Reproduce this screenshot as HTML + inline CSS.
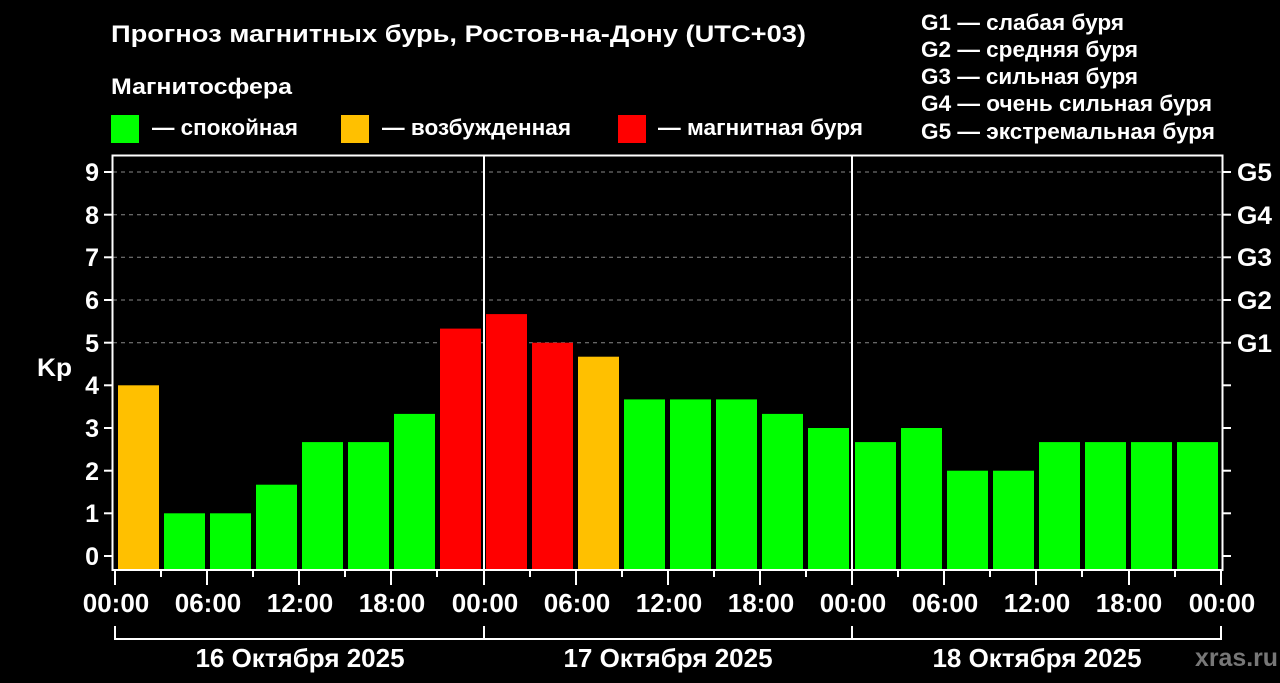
<!DOCTYPE html>
<html><head><meta charset="utf-8"><style>
html,body{margin:0;padding:0;background:#000;width:1280px;height:683px;overflow:hidden}
svg text{font-family:"Liberation Sans","DejaVu Sans",sans-serif;font-weight:bold;fill:#fff}
</style></head><body>
<svg width="1280" height="683" viewBox="0 0 1280 683" xmlns="http://www.w3.org/2000/svg">
<rect width="1280" height="683" fill="#000"/>
<text x="111" y="42" font-size="24" textLength="695" lengthAdjust="spacingAndGlyphs">Прогноз магнитных бурь, Ростов-на-Дону (UTC+03)</text>
<text x="111" y="94" font-size="22" textLength="181" lengthAdjust="spacingAndGlyphs">Магнитосфера</text>
<rect x="111" y="115" width="28" height="28" fill="#00ff00"/>
<text x="152" y="135" font-size="22" textLength="146" lengthAdjust="spacingAndGlyphs">— спокойная</text>
<rect x="341" y="115" width="28" height="28" fill="#ffc000"/>
<text x="382" y="135" font-size="22" textLength="189" lengthAdjust="spacingAndGlyphs">— возбужденная</text>
<rect x="618" y="115" width="28" height="28" fill="#ff0000"/>
<text x="658" y="135" font-size="22" textLength="205" lengthAdjust="spacingAndGlyphs">— магнитная буря</text>
<g font-size="22">
<text x="921" y="30" textLength="203" lengthAdjust="spacingAndGlyphs">G1 — слабая буря</text>
<text x="921" y="57" textLength="217" lengthAdjust="spacingAndGlyphs">G2 — средняя буря</text>
<text x="921" y="84" textLength="217" lengthAdjust="spacingAndGlyphs">G3 — сильная буря</text>
<text x="921" y="111" textLength="291" lengthAdjust="spacingAndGlyphs">G4 — очень сильная буря</text>
<text x="921" y="139" textLength="294" lengthAdjust="spacingAndGlyphs">G5 — экстремальная буря</text>
</g>
<g stroke="#888" stroke-width="1" stroke-dasharray="4,4">
<line x1="113" x2="1222" y1="172" y2="172"/>
<line x1="113" x2="1222" y1="214.7" y2="214.7"/>
<line x1="113" x2="1222" y1="257.3" y2="257.3"/>
<line x1="113" x2="1222" y1="300" y2="300"/>
<line x1="113" x2="1222" y1="342.7" y2="342.7"/>
</g>
<g>
<rect x="118" y="385.3" width="41" height="184.7" fill="#ffc000"/>
<rect x="164" y="513.3" width="41" height="56.7" fill="#00ff00"/>
<rect x="210" y="513.3" width="41" height="56.7" fill="#00ff00"/>
<rect x="256" y="484.7" width="41" height="85.3" fill="#00ff00"/>
<rect x="302" y="442.1" width="41" height="127.9" fill="#00ff00"/>
<rect x="348" y="442.1" width="41" height="127.9" fill="#00ff00"/>
<rect x="394" y="413.9" width="41" height="156.1" fill="#00ff00"/>
<rect x="440" y="328.6" width="41" height="241.4" fill="#ff0000"/>
<rect x="486" y="314.1" width="41" height="255.9" fill="#ff0000"/>
<rect x="532" y="342.7" width="41" height="227.3" fill="#ff0000"/>
<rect x="578" y="356.7" width="41" height="213.3" fill="#ffc000"/>
<rect x="624" y="399.4" width="41" height="170.6" fill="#00ff00"/>
<rect x="670" y="399.4" width="41" height="170.6" fill="#00ff00"/>
<rect x="716" y="399.4" width="41" height="170.6" fill="#00ff00"/>
<rect x="762" y="413.9" width="41" height="156.1" fill="#00ff00"/>
<rect x="808" y="428" width="41" height="142" fill="#00ff00"/>
<rect x="855" y="442.1" width="41" height="127.9" fill="#00ff00"/>
<rect x="901" y="428" width="41" height="142" fill="#00ff00"/>
<rect x="947" y="470.7" width="41" height="99.3" fill="#00ff00"/>
<rect x="993" y="470.7" width="41" height="99.3" fill="#00ff00"/>
<rect x="1039" y="442.1" width="41" height="127.9" fill="#00ff00"/>
<rect x="1085" y="442.1" width="41" height="127.9" fill="#00ff00"/>
<rect x="1131" y="442.1" width="41" height="127.9" fill="#00ff00"/>
<rect x="1177" y="442.1" width="41" height="127.9" fill="#00ff00"/>
</g>
<rect x="112.5" y="155.5" width="1110" height="414.5" fill="none" stroke="#fff" stroke-width="2"/>
<line x1="484" x2="484" y1="155" y2="570" stroke="#fff" stroke-width="2"/>
<line x1="852" x2="852" y1="155" y2="570" stroke="#fff" stroke-width="2"/>
<g stroke="#fff" stroke-width="2">
<line x1="104" x2="112" y1="556" y2="556"/><line x1="104" x2="112" y1="513.3" y2="513.3"/>
<line x1="104" x2="112" y1="470.7" y2="470.7"/><line x1="104" x2="112" y1="428" y2="428"/>
<line x1="104" x2="112" y1="385.3" y2="385.3"/><line x1="104" x2="112" y1="342.7" y2="342.7"/>
<line x1="104" x2="112" y1="300" y2="300"/><line x1="104" x2="112" y1="257.3" y2="257.3"/>
<line x1="104" x2="112" y1="214.7" y2="214.7"/><line x1="104" x2="112" y1="172" y2="172"/>
<line x1="1223" x2="1231" y1="556" y2="556"/><line x1="1223" x2="1231" y1="513.3" y2="513.3"/>
<line x1="1223" x2="1231" y1="470.7" y2="470.7"/><line x1="1223" x2="1231" y1="428" y2="428"/>
<line x1="1223" x2="1231" y1="385.3" y2="385.3"/><line x1="1223" x2="1231" y1="342.7" y2="342.7"/>
<line x1="1223" x2="1231" y1="300" y2="300"/><line x1="1223" x2="1231" y1="257.3" y2="257.3"/>
<line x1="1223" x2="1231" y1="214.7" y2="214.7"/><line x1="1223" x2="1231" y1="172" y2="172"/>
</g>
<g font-size="25" text-anchor="end">
<text x="99" y="565">0</text><text x="99" y="522">1</text><text x="99" y="480">2</text>
<text x="99" y="437">3</text><text x="99" y="394">4</text><text x="99" y="352">5</text>
<text x="99" y="309">6</text><text x="99" y="266">7</text><text x="99" y="224">8</text>
<text x="99" y="181">9</text>
</g>
<g font-size="25">
<text x="1237" y="352" textLength="35" lengthAdjust="spacingAndGlyphs">G1</text><text x="1237" y="309" textLength="35" lengthAdjust="spacingAndGlyphs">G2</text><text x="1237" y="266" textLength="35" lengthAdjust="spacingAndGlyphs">G3</text>
<text x="1237" y="224" textLength="35" lengthAdjust="spacingAndGlyphs">G4</text><text x="1237" y="181" textLength="35" lengthAdjust="spacingAndGlyphs">G5</text>
</g>
<text x="37" y="376" font-size="25" textLength="35" lengthAdjust="spacingAndGlyphs">Kp</text>
<g stroke="#fff" stroke-width="2">
<line x1="115" x2="115" y1="571" y2="585"/><line x1="161" x2="161" y1="571" y2="577"/>
<line x1="207" x2="207" y1="571" y2="585"/><line x1="253" x2="253" y1="571" y2="577"/>
<line x1="299" x2="299" y1="571" y2="585"/><line x1="345" x2="345" y1="571" y2="577"/>
<line x1="391" x2="391" y1="571" y2="585"/><line x1="437" x2="437" y1="571" y2="577"/>
<line x1="484" x2="484" y1="571" y2="585"/><line x1="530" x2="530" y1="571" y2="577"/>
<line x1="576" x2="576" y1="571" y2="585"/><line x1="622" x2="622" y1="571" y2="577"/>
<line x1="668" x2="668" y1="571" y2="585"/><line x1="714" x2="714" y1="571" y2="577"/>
<line x1="760" x2="760" y1="571" y2="585"/><line x1="806" x2="806" y1="571" y2="577"/>
<line x1="852" x2="852" y1="571" y2="585"/><line x1="898" x2="898" y1="571" y2="577"/>
<line x1="944" x2="944" y1="571" y2="585"/><line x1="990" x2="990" y1="571" y2="577"/>
<line x1="1036" x2="1036" y1="571" y2="585"/><line x1="1082" x2="1082" y1="571" y2="577"/>
<line x1="1129" x2="1129" y1="571" y2="585"/><line x1="1175" x2="1175" y1="571" y2="577"/>
<line x1="1221" x2="1221" y1="571" y2="585"/>
</g>
<g font-size="26" text-anchor="middle">
<text x="116" y="612">00:00</text><text x="208" y="612">06:00</text><text x="300" y="612">12:00</text><text x="392" y="612">18:00</text>
<text x="485" y="612">00:00</text><text x="577" y="612">06:00</text><text x="669" y="612">12:00</text><text x="761" y="612">18:00</text>
<text x="853" y="612">00:00</text><text x="945" y="612">06:00</text><text x="1037" y="612">12:00</text><text x="1129" y="612">18:00</text>
<text x="1222" y="612">00:00</text>
</g>
<g stroke="#fff" stroke-width="2" fill="none">
<polyline points="115,626 115,639 1221,639 1221,626"/>
<line x1="484" x2="484" y1="626" y2="639"/>
<line x1="852" x2="852" y1="626" y2="639"/>
</g>
<g font-size="26" text-anchor="middle">
<text x="300" y="667">16 Октября 2025</text>
<text x="668" y="667">17 Октября 2025</text>
<text x="1037" y="667">18 Октября 2025</text>
</g>
<text x="1195" y="666" font-size="25" style="fill:#777" textLength="83" lengthAdjust="spacingAndGlyphs">xras.ru</text>
</svg>
</body></html>
